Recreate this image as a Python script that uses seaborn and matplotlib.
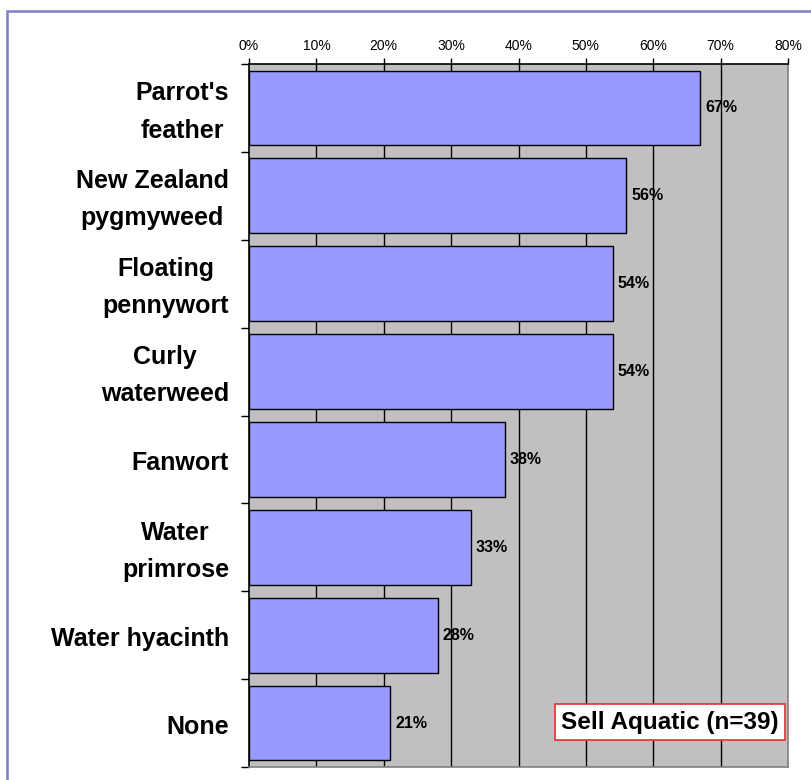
import matplotlib
matplotlib.use("Agg")
import matplotlib.pyplot as plt
import matplotlib.transforms as mtransforms
import seaborn as sns
import pandas as pd
from matplotlib.patches import Rectangle
from matplotlib.ticker import FixedLocator

categories = ["Parrot's\nfeather", "New Zealand\npygmyweed", "Floating\npennywort",
              "Curly\nwaterweed", "Fanwort", "Water\nprimrose", "Water hyacinth", "None"]
values = [67, 56, 54, 54, 38, 33, 28, 21]
xticks = [0, 10, 20, 30, 40, 50, 60, 70, 80]
xtick_labels = ["0%", "10%", "20%", "30%", "40%", "50%", "60%", "70%", "80%"]
annotation = "Sell Aquatic (n=39)"

sns.set_theme(style="white")
plt.rcParams['font.family'] = ['Liberation Sans', 'DejaVu Sans']
plt.rcParams['text.color'] = 'black'
plt.rcParams['xtick.color'] = 'black'
plt.rcParams['ytick.color'] = 'black'

df = pd.DataFrame({"cat": categories, "val": values})

fig = plt.figure(figsize=(8.11, 7.8), dpi=100)
fig.patch.set_facecolor("white")
# figure border (cropped at right/bottom)
fig.add_artist(Rectangle((7 / 811, -0.1), 1.2, (780 - 11) / 780 + 0.1,
                         transform=fig.transFigure, fill=False,
                         edgecolor="#7880C4", linewidth=1.8))

ax = fig.add_axes([249 / 811, 1 - 767 / 780, (788 - 249) / 811, (767 - 64) / 780])
ax.set_facecolor("#C0C0C0")

sns.barplot(data=df, x="val", y="cat", orient="h", color="#9999FF", saturation=1,
            width=0.85, edgecolor="black", linewidth=1, ax=ax, zorder=3)

ax.set_xlim(0, 80)
ax.set_ylim(len(categories) - 0.5, -0.5)
ax.set_xticks(xticks)
ax.set_xticklabels(xtick_labels)
ax.xaxis.tick_top()
ax.tick_params(axis="x", which="major", direction="out", length=4, width=1,
               color="black", labelsize=10, labelcolor="black", pad=4, top=True, bottom=False)
for x in xticks[1:-1]:
    ax.axvline(x, color="black", linewidth=1, zorder=1)

# category labels drawn as text next to the axis (positions from the categorical axis)
ax.yaxis.set_minor_locator(FixedLocator([i - 0.5 for i in range(len(categories) + 1)]))
ax.tick_params(axis="y", which="major", length=0, labelleft=False)
ax.tick_params(axis="y", which="minor", direction="out", length=6, width=1, color="black", left=True)
blend = mtransforms.blended_transform_factory(ax.transAxes, ax.transData)
lab_tr = mtransforms.offset_copy(blend, fig=fig, x=-20, y=-4, units="dots")
for i, c in enumerate(categories):
    ax.text(0, i, c, transform=lab_tr, ha="right", va="center", multialignment="center",
            linespacing=1.7, fontsize=18, fontweight="bold", color="black", clip_on=False)

ax.set_xlabel("")
ax.set_ylabel("")

for s in ["top", "left"]:
    ax.spines[s].set_color("black")
    ax.spines[s].set_linewidth(1.2)
for s in ["right", "bottom"]:
    ax.spines[s].set_color("#808080")
    ax.spines[s].set_linewidth(1.2)

for i, v in enumerate(values):
    ax.text(v + 0.7, i, f"{v}%", va="center", ha="left", fontsize=11.5,
            fontweight="bold", color="black", zorder=5)

ax.text(0.781, 0.064, annotation, transform=ax.transAxes, ha="center", va="center",
        fontsize=17.5, fontweight="bold", color="black", zorder=6,
        bbox=dict(boxstyle="square,pad=0.27", facecolor="white", edgecolor="#E03030", linewidth=1.2))

fig.savefig("out.png", dpi=100)
